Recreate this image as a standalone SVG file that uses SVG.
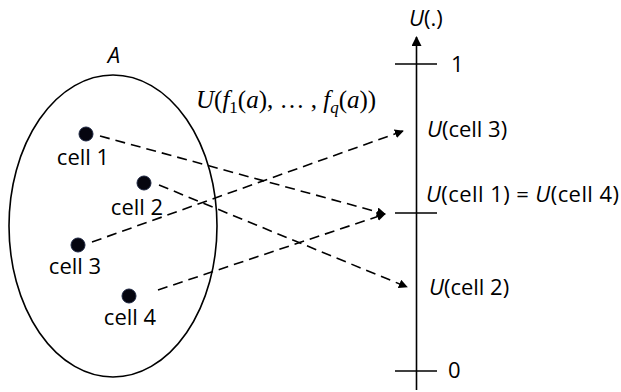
<svg xmlns="http://www.w3.org/2000/svg" width="621" height="392" viewBox="0 0 621 392">
<style>
.t{font-family:"Open Sans","Noto Sans",sans-serif;font-size:22px;fill:#000}
.i{font-style:italic}
.m{font-family:"Liberation Serif","DejaVu Serif",serif;font-size:25px;fill:#000}
.dash{stroke:#000;stroke-width:1.6;stroke-dasharray:10 6;fill:none}
.ln{stroke:#000;stroke-width:1.6;fill:none}
.dot{fill:#05050f;stroke:#1c2540;stroke-width:1}
</style>
<defs>
<marker id="ah" viewBox="0 0 10 10" refX="9" refY="5" markerWidth="9" markerHeight="9" markerUnits="userSpaceOnUse" orient="auto">
<path d="M0,0 L10,5 L0,10 z" fill="#000"/>
</marker>
<marker id="axh" viewBox="0 0 10 10" refX="9" refY="5" markerWidth="10" markerHeight="10" markerUnits="userSpaceOnUse" orient="auto">
<path d="M0,0 L10,5 L0,10 z" fill="#000"/>
</marker>
</defs>
<rect width="621" height="392" fill="#fff"/>
<g id="setA">
<ellipse cx="113" cy="226" rx="104" ry="151" class="ln"/>
<text x="114" y="63" class="t i" text-anchor="middle" font-size="20">A</text>
</g>
<g id="cell1"><circle cx="86" cy="134" r="7" class="dot"/><text x="83" y="165" class="t" text-anchor="middle">cell 1</text></g>
<g id="cell2"><circle cx="144" cy="183" r="7" class="dot"/><text x="137" y="215" class="t" text-anchor="middle">cell 2</text></g>
<g id="cell3"><circle cx="78" cy="245" r="7" class="dot"/><text x="75" y="274" class="t" text-anchor="middle">cell 3</text></g>
<g id="cell4"><circle cx="129" cy="296" r="7" class="dot"/><text x="130" y="325" class="t" text-anchor="middle">cell 4</text></g>
<g id="axis">
<line x1="416.5" y1="390" x2="416.5" y2="37" class="ln" marker-end="url(#axh)"/>
<line x1="395" y1="64" x2="437" y2="64" class="ln"/>
<line x1="395" y1="213" x2="437" y2="213" class="ln"/>
<line x1="395" y1="371" x2="437" y2="371" class="ln"/>
<text x="409" y="26" class="t"><tspan class="i">U</tspan>(.)</text>
<text x="451" y="72" class="t">1</text>
<text x="448" y="378" class="t">0</text>
<text x="427" y="137" class="t"><tspan class="i">U</tspan>(cell 3)</text>
<text x="426" y="202" class="t" textLength="193" lengthAdjust="spacing"><tspan class="i">U</tspan>(cell 1) = <tspan class="i">U</tspan>(cell 4)</text>
<text x="429" y="295" class="t"><tspan class="i">U</tspan>(cell 2)</text>
</g>
<g id="label">
<text x="196" y="108" class="m"><tspan font-style="italic">U</tspan>(<tspan font-style="italic">f</tspan><tspan font-size="17" dy="5">1</tspan><tspan dy="-5">(</tspan><tspan font-style="italic">a</tspan>), … , <tspan font-style="italic">f</tspan><tspan font-size="17" font-style="italic" dy="5">q</tspan><tspan dy="-5">(</tspan><tspan font-style="italic">a</tspan>))</text>
</g>
<g id="connectors">
<line x1="100" y1="136" x2="385" y2="214" class="dash" marker-end="url(#ah)"/>
<line x1="159" y1="185" x2="407" y2="287" class="dash" marker-end="url(#ah)"/>
<line x1="92" y1="242" x2="403" y2="131" class="dash" marker-end="url(#ah)"/>
<line x1="158" y1="290" x2="385" y2="214" class="dash" marker-end="url(#ah)"/>
</g>
</svg>
